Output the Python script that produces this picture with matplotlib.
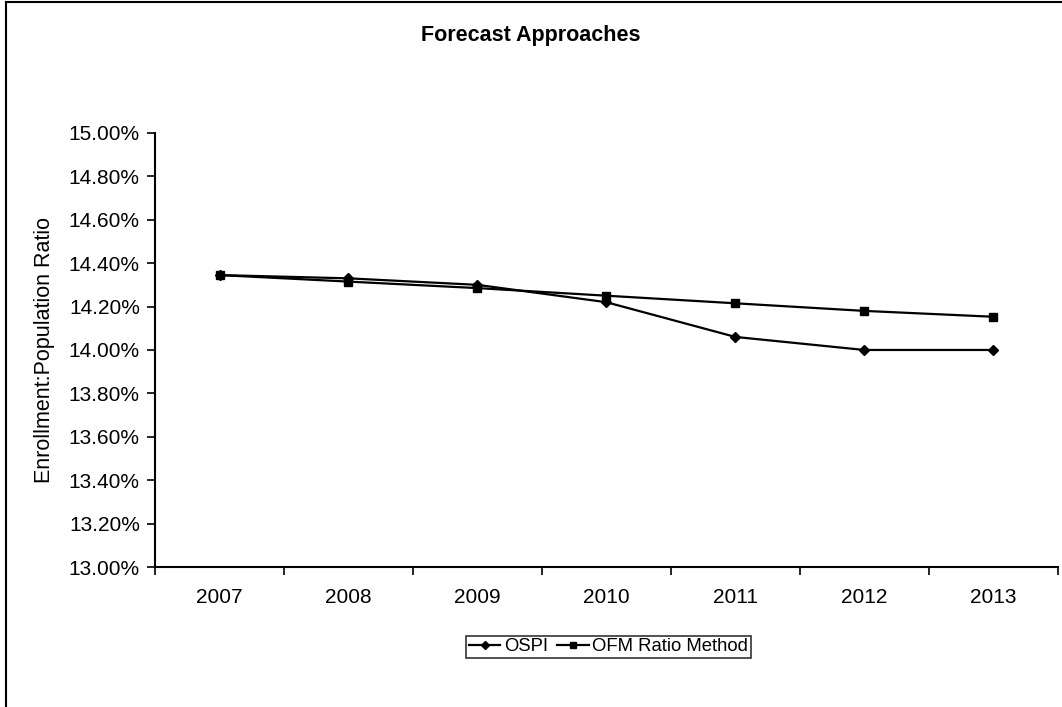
import matplotlib
matplotlib.use("Agg")
import matplotlib.pyplot as plt
from matplotlib.ticker import FixedLocator, FuncFormatter
from matplotlib.lines import Line2D

years = ["2007", "2008", "2009", "2010", "2011", "2012", "2013"]
ospi = [14.345, 14.33, 14.30, 14.22, 14.06, 14.00, 14.00]
ofm_ratio = [14.345, 14.315, 14.285, 14.25, 14.215, 14.18, 14.153]
y_ticks = [13.0, 13.2, 13.4, 13.6, 13.8, 14.0, 14.2, 14.4, 14.6, 14.8, 15.0]

plt.rcParams["font.family"] = ["Liberation Sans", "DejaVu Sans"]

fig = plt.figure(figsize=(10.62, 7.07), dpi=100)
ax = fig.add_axes([0.146, 0.198, 0.850, 0.614])

x = list(range(len(years)))
ax.plot(x, ospi, color="black", lw=1.6, marker="D", ms=5, label="OSPI")
ax.plot(x, ofm_ratio, color="black", lw=1.6, marker="s", ms=6, label="OFM Ratio Method")

ax.set_xlim(-0.5, len(years) - 0.5)
ax.set_ylim(13.0, 15.0)
ax.set_yticks(y_ticks)
ax.yaxis.set_major_formatter(FuncFormatter(lambda v, p: f"{v:.2f}%"))
ax.set_xticks(x)
ax.set_xticklabels(years)
ax.xaxis.set_minor_locator(FixedLocator([i - 0.5 for i in range(len(years) + 1)]))
ax.tick_params(axis="x", which="major", length=0, pad=15, labelsize=15)
ax.tick_params(axis="x", which="minor", length=6, width=1.2, direction="out")
ax.tick_params(axis="y", length=6, width=1.2, direction="out", labelsize=15, pad=5)

for side in ("top", "right"):
    ax.spines[side].set_visible(False)
for side in ("left", "bottom"):
    ax.spines[side].set_linewidth(1.5)

ax.set_ylabel("Enrollment:Population Ratio", fontsize=15.5, labelpad=10)

fig.text(0.5, 0.950, "Forecast Approaches", ha="center", va="center",
         fontsize=15.5, fontweight="bold")

leg = fig.legend(handles=[
    Line2D([], [], color="black", lw=1.6, marker="D", ms=4, label="OSPI"),
    Line2D([], [], color="black", lw=1.6, marker="s", ms=4, label="OFM Ratio Method")],
    loc="center", bbox_to_anchor=(0.573, 0.085), ncol=2, fontsize=13.3,
    frameon=True, fancybox=False, handlelength=1.7, handletextpad=0.2,
    columnspacing=0.5, borderpad=0.15, borderaxespad=0)
leg.get_frame().set_edgecolor("black")
leg.get_frame().set_linewidth(1.2)

# chart area border
fig.add_artist(Line2D([0.006, 0.006], [0.0, 0.997], transform=fig.transFigure,
                      color="black", lw=1.5))
fig.add_artist(Line2D([0.006, 1.0], [0.997, 0.997], transform=fig.transFigure,
                      color="black", lw=1.5))

fig.savefig("out.png", dpi=100)
